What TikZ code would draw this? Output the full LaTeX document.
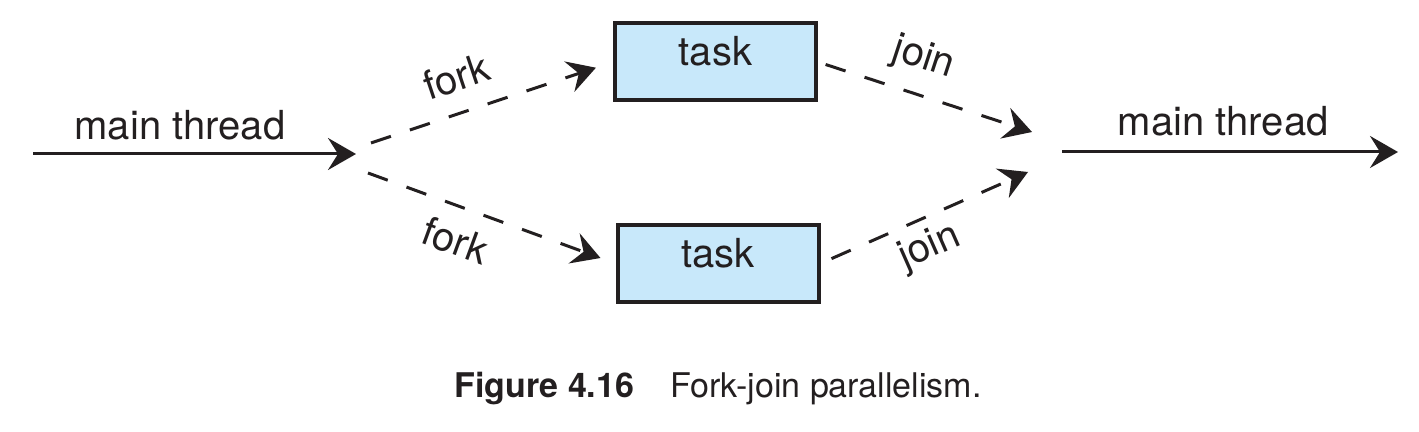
\documentclass[tikz,border=0pt]{standalone}
\usepackage{fontspec}
\setmainfont{TeX Gyre Heros}
\usetikzlibrary{arrows.meta}
\definecolor{taskblue}{RGB}{200,232,250}
\definecolor{ink}{RGB}{35,31,32}

\begin{document}
\begin{tikzpicture}[x=0.5pt,y=-0.5pt,>={Stealth[length=14pt,width=16pt,inset=5pt]},
  line width=1.5pt,color=ink,font=\fontsize{20}{24}\selectfont,
  task/.style={draw,line width=2pt,fill=taskblue,minimum width=100.5pt,
    minimum height=38.5pt,text height=14pt,text depth=10pt,inner sep=0pt},
  flow/.style={dash pattern=on 10.5pt off 10pt}]
  \useasboundingbox (0,0) rectangle (1419,432);
  \node[task] (t1) at (715.5,62)  {task};
  \node[task] (t2) at (718,263.5) {task};
  \coordinate (in)     at (33,154);
  \coordinate (fork)   at (356,154);
  \coordinate (fu)     at (371,143);
  \coordinate (fl)     at (368,173);
  \coordinate (ju)     at (1032,132);
  \coordinate (jl)     at (1028,172);
  \coordinate (out)    at (1062,152);
  \coordinate (outend) at (1398,152);
 \path[->]
  (in)
    edge node[above=3pt,pos=.455]{main thread} (fork)
  (fu)
    edge [flow,shorten >=9pt] node[sloped,above=6.5pt,pos=.4]{fork} (t1.west)
  (fl)
    edge [flow,shorten >=8pt] node[sloped,below=5pt,pos=.4]{fork} (t2.west)
  (t1.east)
    edge [flow,shorten <=4pt] node[sloped,above=4.5pt,pos=.44]{join} (ju)
  (t2.east)
    edge [flow,shorten <=6pt] node[sloped,below=1.5pt,pos=.47]{join} (jl)
  (out)
    edge node[above=4pt,pos=.48]{main thread} (outend);

  \node[anchor=base west,inner sep=0pt,font=\fontsize{17}{20}\selectfont] (cap) at (453,398)
    {\textbf{Figure 4.16}\hspace{18pt}Fork-join parallelism.};
\end{tikzpicture}
\end{document}
